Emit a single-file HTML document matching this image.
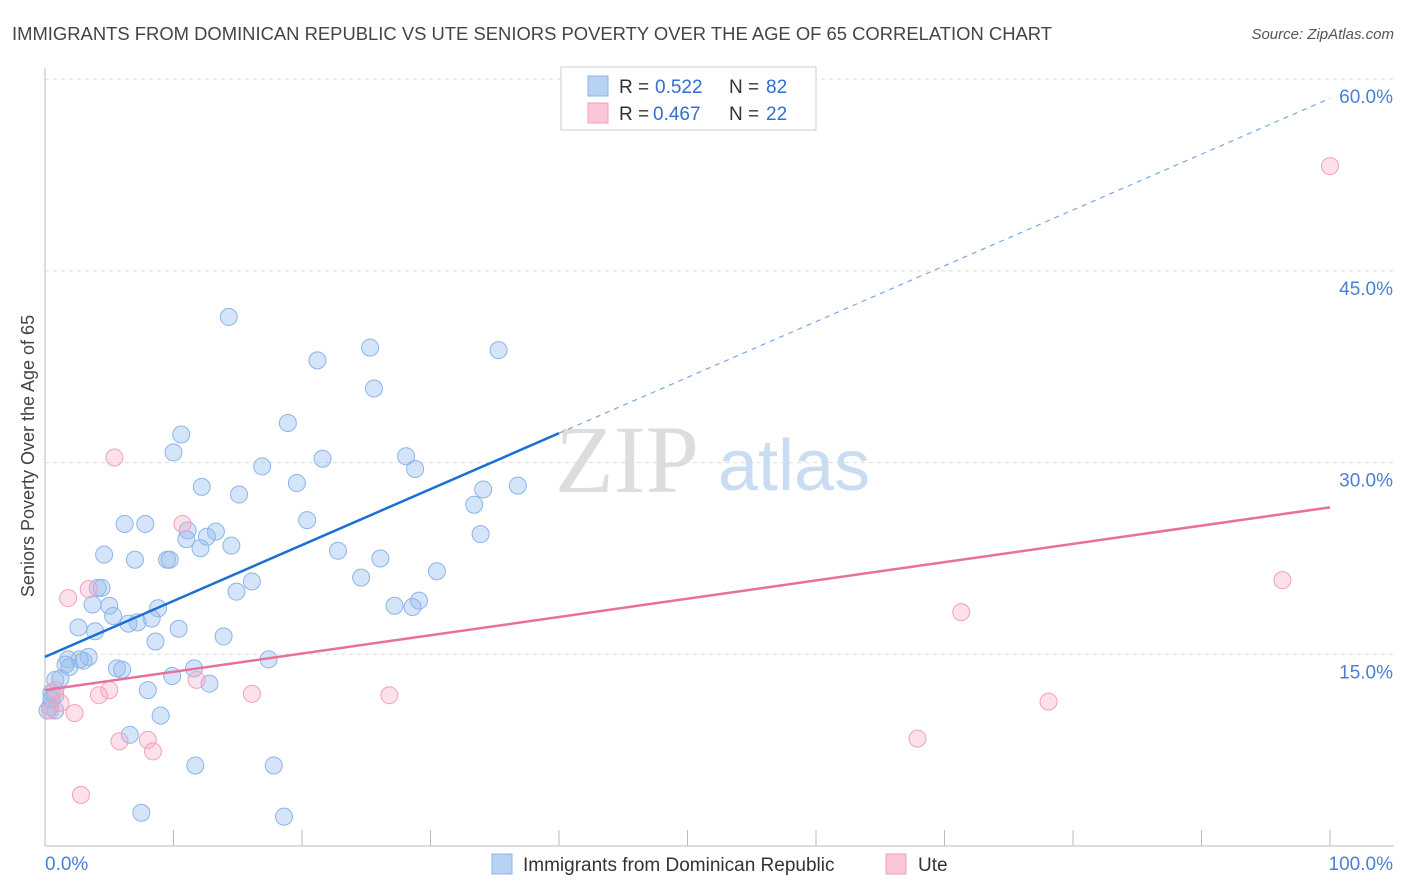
<!DOCTYPE html>
<html><head><meta charset="utf-8">
<style>
body{margin:0;background:#fff;font-family:"Liberation Sans",sans-serif;}
svg{display:block}
</style></head>
<body>
<svg id="chart" width="1406" height="892" viewBox="0 0 1406 892" xmlns="http://www.w3.org/2000/svg">
<text x="12" y="40" font-size="18" fill="#444" textLength="1040" lengthAdjust="spacingAndGlyphs">IMMIGRANTS FROM DOMINICAN REPUBLIC VS UTE SENIORS POVERTY OVER THE AGE OF 65 CORRELATION CHART</text>
<text x="1394" y="39" font-size="15" fill="#555" font-style="italic" text-anchor="end">Source: ZipAtlas.com</text>
<g id="grid"></g>
<g id="axes"></g>
<text x="555" y="492" font-size="96" fill="#ddd" font-family="Liberation Serif,serif">ZIP</text>
<text x="718" y="490" font-size="72" fill="#c9dcf2">atlas</text>
<g id="marks"></g>
<text transform="translate(34,456) rotate(-90)" font-size="18" fill="#444" text-anchor="middle">Seniors Poverty Over the Age of 65</text>
<g>
<rect x="561" y="67" width="255" height="63" fill="#fff" stroke="#ccc"/>
<rect x="588" y="76" width="20" height="20" fill="#b8d2f4" stroke="#8db4e8"/>
<rect x="588" y="103" width="20" height="20" fill="#f9c6d7" stroke="#f0a0bc"/>
<text y="93" font-size="19" fill="#333"><tspan x="619">R =</tspan><tspan x="655" fill="#2f6fd0">0.522</tspan><tspan x="729">N =</tspan><tspan x="766" fill="#2f6fd0">82</tspan></text>
<text y="120" font-size="19" fill="#333"><tspan x="619">R =</tspan><tspan x="653" fill="#2f6fd0">0.467</tspan><tspan x="729">N =</tspan><tspan x="766" fill="#2f6fd0">22</tspan></text>
</g>
<g>
<rect x="492" y="854" width="20" height="20" fill="#b8d2f4" stroke="#8db4e8"/>
<text x="523" y="871" font-size="19" fill="#333">Immigrants from Dominican Republic</text>
<rect x="886" y="854" width="20" height="20" fill="#f9c6d7" stroke="#f0a0bc"/>
<text x="918" y="871" font-size="19" fill="#333">Ute</text>
</g>
</svg>
<script>
const yTicks=[15,30,45,60];
const yTickLabels=["15.0%","30.0%","45.0%","60.0%"];
const xTickLabels=["0.0%","100.0%"];
const blueX=[14.3,25.3,21.2,35.3,25.6,18.9,10.6,10.0,28.1,21.6,16.9,28.8,12.2,19.6,15.1,36.8,34.1,33.4,6.2,7.8,20.4,11.1,33.9,13.3,12.6,11.0,12.1,14.5,22.8,4.6,7.0,9.5,9.7,26.1,30.5,24.6,16.1,14.9,4.1,4.4,3.7,5.0,29.1,27.2,28.6,8.8,5.3,8.3,7.2,6.5,2.6,3.9,10.4,13.9,8.6,1.8,3.0,3.4,2.7,1.6,1.9,5.6,6.0,17.4,11.6,9.9,12.8,8.0,0.8,1.2,0.5,0.8,0.4,0.8,9.0,6.6,11.7,17.8,7.5,18.6,0.2,0.5];
const blueY=[41.4,39.0,38.0,38.8,35.8,33.1,32.2,30.8,30.5,30.3,29.7,29.5,28.1,28.4,27.5,28.2,27.9,26.7,25.2,25.2,25.5,24.7,24.4,24.6,24.2,24.0,23.3,23.5,23.1,22.8,22.4,22.4,22.4,22.5,21.5,21.0,20.7,19.9,20.2,20.2,18.9,18.8,19.2,18.8,18.7,18.6,18.0,17.8,17.5,17.4,17.1,16.8,17.0,16.4,16.0,14.6,14.5,14.8,14.6,14.2,14.0,13.9,13.8,14.6,13.9,13.3,12.7,12.2,13.0,13.1,12.0,11.8,10.9,10.6,10.2,8.7,6.3,6.3,2.6,2.3,10.6,11.5];
const pinkX=[100,5.4,10.7,3.4,1.8,5.0,4.2,16.1,26.8,11.8,0.8,1.2,2.3,5.8,8.0,8.4,2.8,71.3,96.3,78.1,67.9,0.4];
const pinkY=[53.2,30.4,25.2,20.1,19.4,12.2,11.8,11.9,11.8,13.0,12.2,11.2,10.4,8.2,8.3,7.4,4.0,18.3,20.8,11.3,8.4,10.6];
const blueTrend=[[0,14.8],[40,32.3],[100,58.5]];
const pinkTrend=[[0,12.2],[100,26.5]];
const NS="http://www.w3.org/2000/svg";
const X=v=>45+v*12.85, Y=v=>846-v*12.78;
function mk(tag,at,parent){const e=document.createElementNS(NS,tag);for(const k in at)e.setAttribute(k,at[k]);parent.appendChild(e);return e;}
const grid=document.getElementById('grid'),axes=document.getElementById('axes'),marks=document.getElementById('marks');
yTicks.forEach((t,i)=>{
 const l=mk('line',{x1:45,x2:1394,y1:Y(t),y2:Y(t),stroke:'#ddd','stroke-dasharray':'4,4'},grid);
 
 
 const tx=mk('text',{x:1393,y:Y(t)+24,'font-size':19,fill:'#4a7fd4','text-anchor':'end'},axes);
 tx.textContent=yTickLabels[i];
 
 
});
const ax=mk('line',{x1:45,x2:1394,y1:846,y2:846,stroke:'#bbb'},axes);


const ay=mk('line',{x1:45,x2:45,y1:68,y2:846,stroke:'#bbb'},axes);


for(let i=0;i<=10;i++){const t=mk('line',{x1:X(i*10),x2:X(i*10),y1:830,y2:846,stroke:'#bbb'},axes);
 
 }
const xl0=mk('text',{x:45,y:870,'font-size':19,fill:'#4a7fd4'},axes);xl0.textContent=xTickLabels[0];


const xl1=mk('text',{x:1393,y:870,'font-size':19,fill:'#4a7fd4','text-anchor':'end'},axes);xl1.textContent=xTickLabels[1];


blueX.forEach((v,i)=>{const c=mk('circle',{cx:X(v),cy:Y(blueY[i]),r:8.5,fill:'rgba(150,190,240,0.4)',stroke:'#8db4e8','stroke-width':1},marks);
 
 });
pinkX.forEach((v,i)=>{const c=mk('circle',{cx:X(v),cy:Y(pinkY[i]),r:8.5,fill:'rgba(245,170,195,0.35)',stroke:'#f0a0bc','stroke-width':1},marks);
 
 });
const b1=mk('line',{x1:X(blueTrend[0][0]),y1:Y(blueTrend[0][1]),x2:X(blueTrend[1][0]),y2:Y(blueTrend[1][1]),stroke:'#1a6fd6','stroke-width':2.5},marks);


const b2=mk('line',{x1:X(blueTrend[1][0]),y1:Y(blueTrend[1][1]),x2:X(blueTrend[2][0]),y2:Y(blueTrend[2][1]),stroke:'#7aa6e0','stroke-width':1.2,'stroke-dasharray':'5,5'},marks);


const p1=mk('line',{x1:X(pinkTrend[0][0]),y1:Y(pinkTrend[0][1]),x2:X(pinkTrend[1][0]),y2:Y(pinkTrend[1][1]),stroke:'#e8709a','stroke-width':2.5},marks);


</script>
</body></html>
